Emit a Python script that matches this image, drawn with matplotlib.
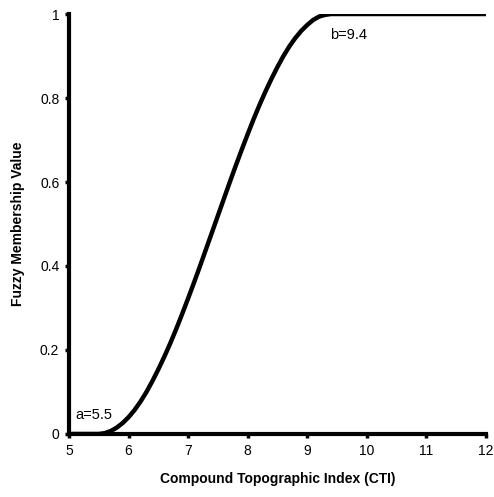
import matplotlib
matplotlib.use("Agg")
import matplotlib.pyplot as plt

# curve values (CTI vs membership)
cti = [5.0, 5.5, 5.6, 5.7, 5.8, 5.9, 6.0, 6.1, 6.2, 6.3, 6.4, 6.5, 6.6, 6.7, 6.8, 6.9,
       7.0, 7.1, 7.2, 7.3, 7.4, 7.5, 7.6, 7.7, 7.8, 7.9, 8.0, 8.1, 8.2, 8.3, 8.4,
       8.5, 8.6, 8.7, 8.8, 8.9, 9.0, 9.1, 9.2, 9.3, 9.4, 10.0, 11.0, 12.0]
membership = [0.0, 0.0, 0.002, 0.007, 0.015, 0.026, 0.04, 0.057, 0.077, 0.1, 0.126,
              0.154, 0.184, 0.216, 0.25, 0.286, 0.323, 0.361, 0.4, 0.44, 0.48,
              0.52, 0.56, 0.6, 0.639, 0.677, 0.714, 0.75, 0.784, 0.816, 0.846,
              0.874, 0.9, 0.923, 0.943, 0.96, 0.974, 0.986, 0.994, 0.998, 1.0,
              1.0, 1.0, 1.0]

x_ticks = [5, 6, 7, 8, 9, 10, 11, 12]
y_ticks = [0, 0.2, 0.4, 0.6, 0.8, 1]
y_tick_labels = ["0", "0.2", "0.4", "0.6", "0.8", "1"]

plt.rcParams['font.family'] = ['Liberation Sans', 'DejaVu Sans']

fig = plt.figure(figsize=(4.94, 4.97), dpi=100)
ax = fig.add_axes([0.1397, 0.1268, 0.844, 0.845])

ax.plot(cti, membership, color='black', lw=3.2, solid_capstyle='butt',
        solid_joinstyle='round', zorder=3)

ax.set_xlim(5, 12)
ax.set_ylim(0, 1)
ax.set_xticks(x_ticks)
ax.set_yticks(y_ticks)
ax.set_yticklabels(y_tick_labels)

# thick left/bottom axes only
for side in ['top', 'right']:
    ax.spines[side].set_visible(False)
for side in ['left', 'bottom']:
    ax.spines[side].set_linewidth(3.0)
ax.tick_params(direction='out', length=3, width=2.5, labelsize=10, pad=4)

ax.set_xlabel("Compound Topographic Index (CTI)", fontsize=10, fontweight='bold', labelpad=10)
ax.set_ylabel("Fuzzy Membership Value", fontsize=10, fontweight='bold', labelpad=11)

ax.text(5.1, 0.045, "a=5.5", fontsize=10.5, va='center', ha='left')
ax.text(9.38, 0.951, "b=9.4", fontsize=10.5, va='center', ha='left')

fig.savefig("out.png", dpi=100)
